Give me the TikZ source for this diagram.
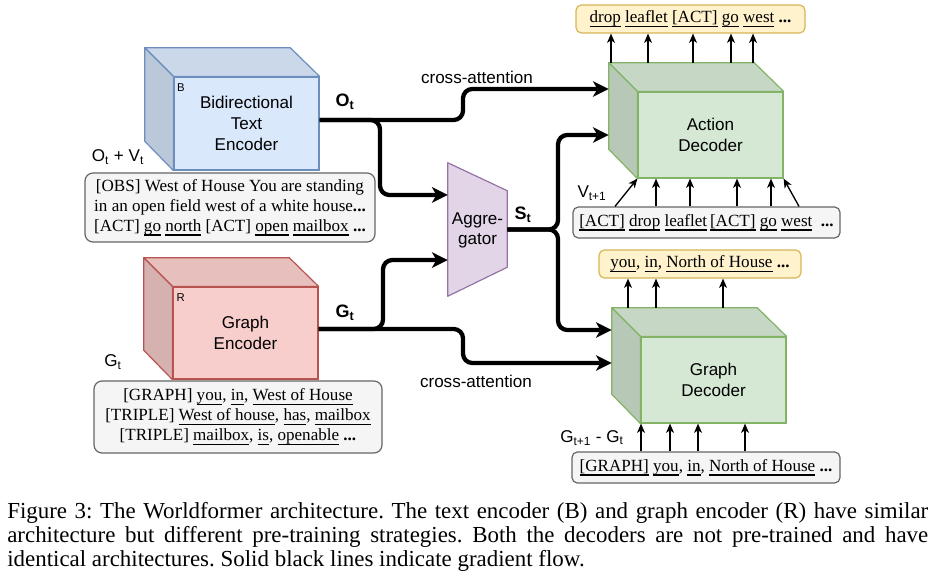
\documentclass[tikz,border=0pt]{standalone}
\usepackage{fontspec}
\setmainfont{Liberation Serif}
\setsansfont{Liberation Sans}
\usetikzlibrary{arrows.meta,calc}
\definecolor{bfill}{HTML}{DAE8FC}\definecolor{bline}{HTML}{6C8EBF}
\definecolor{rfill}{HTML}{F8CECC}\definecolor{rline}{HTML}{B85450}
\definecolor{gfill}{HTML}{D5E8D4}\definecolor{gline}{HTML}{82B366}
\definecolor{yfill}{HTML}{FFF2CC}\definecolor{yline}{HTML}{D6B656}
\definecolor{pfill}{HTML}{E1D5E7}\definecolor{pline}{HTML}{9673A6}
\definecolor{tfill}{HTML}{F5F5F5}\definecolor{tline}{HTML}{666666}
\newcommand\myul[1]{\setbox0\hbox{#1}\leavevmode\rlap{\rule[-3.3pt]{\wd0}{1pt}}\box0\relax}
\newcommand\cubefaces[4]{%
  \filldraw[fill=#3!93!black,draw=#4,line width=0.9pt,line join=round]
    (#2.north west) -- (#2.north east) -- (#1.north east) -- (#1.north west) -- cycle;
  \filldraw[fill=#3!86!black,draw=#4,line width=0.9pt,line join=round]
    (#2.north west) -- (#1.north west) -- (#1.south west) -- (#2.south west) -- cycle;
}
\tikzset{
  cubefront/.style={draw,line width=0.9pt,minimum width=108.75pt,inner sep=0pt,
    font=\sffamily\fontsize{12.8}{15.75}\selectfont,align=center},
  cubeback/.style={minimum width=108.75pt,inner sep=0pt},
  txtbox/.style={draw=tline,fill=tfill,line width=0.9pt,rounded corners=6pt,inner sep=0pt,
    align=center,font=\fontsize{12.8}{15}\selectfont},
  outbox/.style={draw=yline,fill=yfill,line width=0.9pt,rounded corners=4pt,inner sep=0pt,
    align=center,font=\fontsize{12.8}{15}\selectfont},
  lbl/.style={inner sep=0pt,font=\sffamily\fontsize{12.8}{15}\selectfont},
  blbl/.style={inner sep=0pt,font=\sffamily\bfseries\fontsize{13.5}{15}\selectfont},
  small/.style={inner sep=0pt,anchor=north west,font=\sffamily\fontsize{8.5}{10}\selectfont},
  garr/.style={line width=3.2pt,rounded corners=7pt,
    -{Stealth[length=12pt,width=12pt,inset=3.5pt,line width=0pt]}},
  tarr/.style={line width=1pt,-{Stealth[length=7pt,width=6pt,inset=2pt,line width=0pt]}},
}
\begin{document}
\frenchspacing
\begin{tikzpicture}[x=0.75pt,y=-0.75pt]
\useasboundingbox (0,0) rectangle (935,574);

% ---- text encoder
\node[cubefront,minimum height=69.75pt,fill=bfill,draw=bline] (tenc) at (246.5,123.5) {Bidirectional\\Text\\Encoder};
\node[cubeback,minimum height=69.75pt] (tencb) at (217.5,94.5) {};
\cubefaces{tenc}{tencb}{bfill}{bline}
\node[small] (bmark) at ([xshift=2.5pt,yshift=-5pt]tenc.north west) {B};

% ---- graph encoder
\node[cubefront,minimum height=69pt,fill=rfill,draw=rline] (genc) at (245.5,333) {Graph\\Encoder};
\node[cubeback,minimum height=69pt] (gencb) at (216.5,304) {};
\cubefaces{genc}{gencb}{rfill}{rline}
\node[small] (rmark) at ([xshift=3pt,yshift=-5pt]genc.north west) {R};

% ---- action decoder
\node[cubefront,minimum height=64.5pt,fill=gfill,draw=gline] (adec) at (710.5,135) {Action\\Decoder};
\node[cubeback,minimum height=64.5pt] (adecb) at (681.5,106) {};
\cubefaces{adec}{adecb}{gfill}{gline}

% ---- graph decoder
\node[cubefront,minimum height=64.5pt,fill=gfill,draw=gline] (gdec) at (713.5,380) {Graph\\Decoder};
\node[cubeback,minimum height=64.5pt] (gdecb) at (684.5,351) {};
\cubefaces{gdec}{gdecb}{gfill}{gline}

% ---- aggregator
\node[minimum width=44.25pt,minimum height=99.75pt,inner sep=0pt] (aggr) at (477.5,229.5) {};
\filldraw[fill=pfill,draw=pline,line width=0.9pt,line join=round]
  (aggr.north west) -- ($(aggr.north east)+(0,28)$) -- ($(aggr.south east)+(0,-29)$) -- (aggr.south west) -- cycle;
\node[lbl,align=center] (aggrlbl) at ([yshift=-1pt]aggr.center) {Aggre-\\gator};

% ---- text boxes
\node[txtbox,minimum width=217.5pt,minimum height=51.75pt] (obs) at (230,207.5)
 {[OBS] West of House You are standing\\{}in an open field west of a white house\textbf{...}\\{}[ACT] \myul{go} \myul{north} [ACT] \myul{open} \myul{mailbox} \textbf{...}};
\node[txtbox,minimum width=216pt,minimum height=54pt] (gtxt) at (238,417)
 {[GRAPH] \myul{you}, \myul{in}, \myul{West of House}\\{}[TRIPLE] \myul{West of house}, \myul{has}, \myul{mailbox}\\{}[TRIPLE] \myul{mailbox}, \myul{is}, \myul{openable} \textbf{...}};
\node[outbox,minimum width=171.75pt,minimum height=21pt] (aout) at (690.5,19)
 {\myul{drop} \myul{leaflet} \myul{[ACT]} \myul{go} \myul{west} \textbf{...}};
\node[txtbox,minimum width=200.25pt,minimum height=23.25pt,rounded corners=4pt] (ain) at (706.5,222.5)
 {\myul{[ACT]} \myul{drop} \myul{leaflet}\,\myul{[ACT]} \myul{go} \myul{west} \ \textbf{...}};
\node[outbox,minimum width=151.5pt,minimum height=21pt] (gout) at (700,264)
 {\myul{you}, \myul{in}, \myul{North of House} \textbf{...}};
\node[txtbox,minimum width=201pt,minimum height=23.25pt,rounded corners=4pt] (gin) at (706,467.5)
 {\myul{[GRAPH]} \myul{you}, \myul{in}, \myul{North of House} \textbf{...}};

% ---- labels
\node[lbl] (otv) at (118,157) {O\textsubscript{t} + V\textsubscript{t}};
\node[lbl] (gtl) at (113,362) {G\textsubscript{t}};
\node[blbl] (olbl) at (345,102) {O\textsubscript{t}};
\node[blbl] (glbl) at (345,313) {G\textsubscript{t}};
\node[blbl] (slbl) at (523,215) {S\textsubscript{t}};
\node[lbl] (ca1) at (477,77) {cross-attention};
\node[lbl] (ca2) at (476,381) {cross-attention};
\node[lbl] (vlbl) at (592,193) {V\textsubscript{t+1}};
\node[lbl] (gdl) at (592,438) {G\textsubscript{t+1} - G\textsubscript{t}};

% ---- thick connectors
\draw[garr] ([yshift=2.6pt]tenc.east) -- (380,120) -- (380,195) -- ([yshift=25.9pt]aggr.west);
\draw[garr] ([yshift=2.6pt]tenc.east) -- (463,120) -- (463,89) -- ([yshift=12.75pt]adecb.west);
\draw[garr] ([yshift=3pt]genc.east) -- (383,329) -- (383,260) -- ([yshift=-22.9pt]aggr.west);
\draw[garr] ([yshift=3pt]genc.east) -- (463,329) -- (463,363) -- ([yshift=-9pt]gdecb.west);
\draw[garr] (aggr.east) -- (558,229.5) -- (558,135) -- ([yshift=-21.75pt]adecb.west);
\draw[garr] (aggr.east) -- (558,229.5) -- (558,330) -- ([yshift=15.75pt]gdecb.west);

% ---- thin connectors
\foreach \x in {611,648,693,731,753} \draw[tarr] (\x,0 |- adecb.north) -- (\x,0 |- aout.south);
\foreach \x in {656,690,737,771} \draw[tarr] (\x,0 |- ain.north) -- (\x,0 |- adec.south);
\draw[tarr] (615,0 |- ain.north) -- (adec.south west);
\draw[tarr] (799,0 |- ain.north) -- (adec.south east);
\foreach \x in {628,656,723} \draw[tarr] (\x,0 |- gdecb.north) -- (\x,0 |- gout.south);
\foreach \x in {641,670,698,745} \draw[tarr] (\x,0 |- gin.north) -- (\x,0 |- gdec.south);

% ---- caption
\node[anchor=north west,text width=690.75pt,align=justify,inner sep=0pt,
  font=\fontsize{17.2}{18}\selectfont] (cap) at (7,502)
 {Figure 3: The Worldformer architecture. The text encoder (B) and graph encoder (R) have similar\linebreak
  architecture but different pre-training strategies. Both the decoders are not pre-trained and have\linebreak
  identical architectures. Solid black lines indicate gradient flow.};
\end{tikzpicture}
\end{document}
